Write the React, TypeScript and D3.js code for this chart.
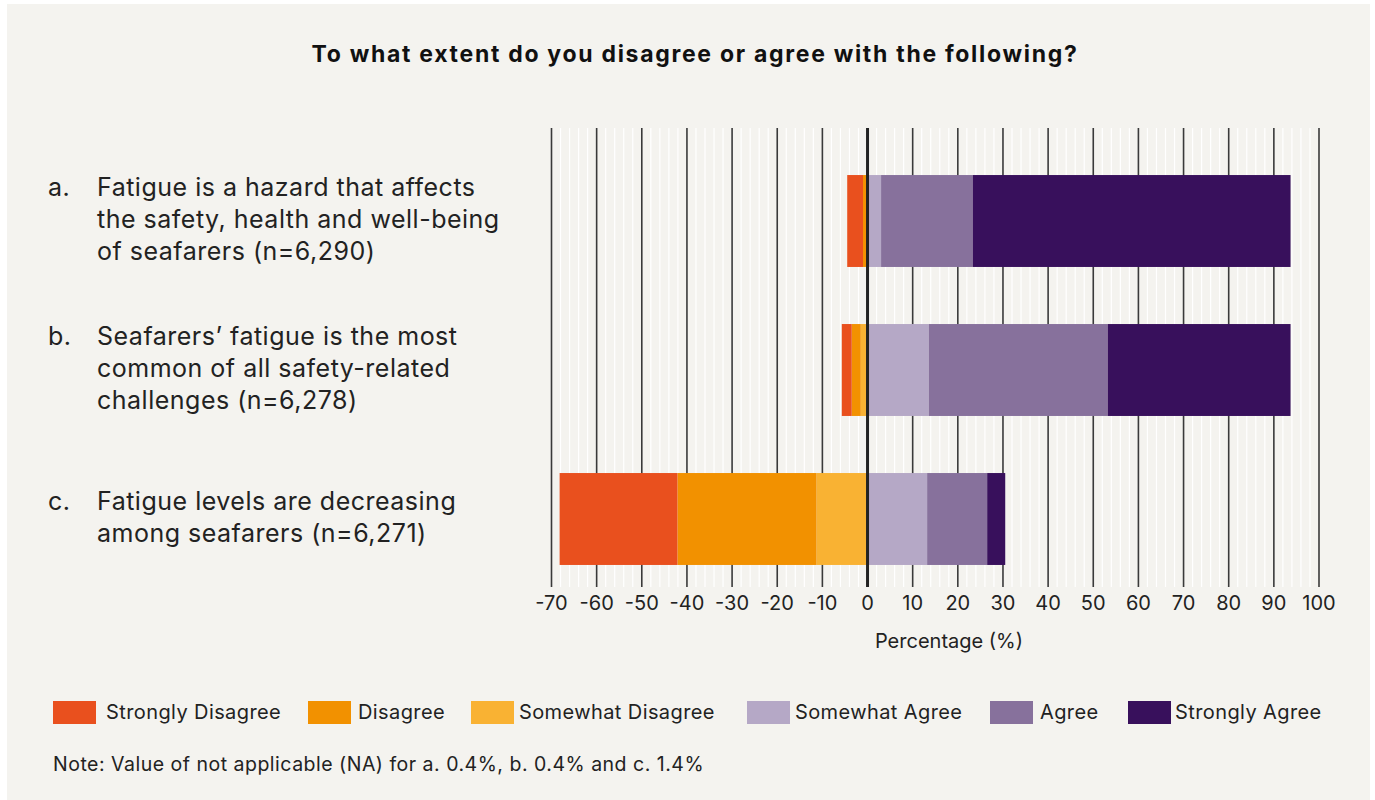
import React from 'react';
import * as d3 from 'd3';

const categories = ['a', 'b', 'c'];
const labelLines: string[][] = [
  ['Fatigue is a hazard that affects', 'the safety, health and well-being', 'of seafarers (n=6,290)'],
  ['Seafarers’ fatigue is the most', 'common of all safety-related', 'challenges (n=6,278)'],
  ['Fatigue levels are decreasing', 'among seafarers (n=6,271)'],
];
const stronglyDisagree = [3.5, 2.2, 26.1];
const disagree = [0.8, 2.0, 30.8];
const somewhatDisagree = [0.2, 1.5, 11.3];
const somewhatAgree = [3.0, 13.6, 13.2];
const agree = [20.3, 39.6, 13.3];
const stronglyAgree = [70.4, 40.5, 4.0];

const seriesNames = ['Strongly Disagree', 'Disagree', 'Somewhat Disagree', 'Somewhat Agree', 'Agree', 'Strongly Agree'];
const seriesColors = ['#e9501e', '#f29100', '#f9b233', '#b5a8c6', '#87719c', '#38105c'];
const tickValues = d3.range(-70, 101, 10);
const minorValues = d3.range(-70, 101, 2).filter((v) => v % 10 !== 0);

const title = 'To what extent do you disagree or agree with the following?';
const axisTitle = 'Percentage (%)';
const note = 'Note: Value of not applicable (NA) for a. 0.4%, b. 0.4% and c. 1.4%';

const W = 1375;
const H = 800;
const FONT = 'Inter, "Open Sans", sans-serif';

export default function App() {
  const x = d3.scaleLinear().domain([-70, 100]).range([551.5, 1319]);
  const y = d3.scaleBand<string>().domain(categories).range([146.5, 593.5]).paddingInner(0.383).paddingOuter(0.1915);
  const gridTop = 128;
  const gridBottom = 587;

  const negSeries = [somewhatDisagree, disagree, stronglyDisagree]; // from zero outward
  const negIdx = [2, 1, 0];
  const posSeries = [somewhatAgree, agree, stronglyAgree];
  const posIdx = [3, 4, 5];

  const bars: React.ReactNode[] = [];
  categories.forEach((c, i) => {
    let acc = 0;
    negSeries.forEach((s, k) => {
      const v = s[i];
      const x0 = x(-acc - v);
      const x1 = x(-acc);
      bars.push(<rect key={`n${c}${k}`} x={x0} y={y(c)} width={x1 - x0} height={y.bandwidth()} fill={seriesColors[negIdx[k]]} />);
      acc += v;
    });
    acc = 0;
    posSeries.forEach((s, k) => {
      const v = s[i];
      const x0 = x(acc);
      const x1 = x(acc + v);
      bars.push(<rect key={`p${c}${k}`} x={x0} y={y(c)} width={x1 - x0} height={y.bandwidth()} fill={seriesColors[posIdx[k]]} />);
      acc += v;
    });
  });

  const legendX = [53, 308, 471, 747, 990, 1128];
  const legendTextX = [106, 358, 519, 795, 1040, 1175];

  return (
    <svg width={W} height={H} style={{ position: 'absolute', left: 0, top: 0 }} fontFamily={FONT}>
      <rect x={0} y={0} width={W} height={H} fill="#ffffff" />
      <rect x={7} y={4} width={1363} height={H} fill="#f4f3ef" />
      <text x={695} y={62} textAnchor="middle" fontSize={23} fontWeight={700} letterSpacing={1.7} fill="#111">{title}</text>

      {minorValues.map((v) => (
        <line key={`m${v}`} x1={x(v)} x2={x(v)} y1={gridTop} y2={gridBottom} stroke="#ffffff" strokeWidth={1.2} />
      ))}
      {tickValues.map((v) => (
        <line key={`t${v}`} x1={x(v)} x2={x(v)} y1={gridTop} y2={gridBottom} stroke="#3a3a3a" strokeWidth={v === 0 ? 0 : 1.6} />
      ))}
      {bars}
      <line x1={x(0)} x2={x(0)} y1={gridTop} y2={gridBottom} stroke="#222" strokeWidth={3} />

      {tickValues.map((v) => (
        <text key={`l${v}`} x={x(v)} y={610} textAnchor="middle" fontSize={20} fill="#222">{v}</text>
      ))}
      <text x={949} y={648} textAnchor="middle" fontSize={20} fill="#222">{axisTitle}</text>

      {labelLines.map((lines, i) => {
        const cy = (y(categories[i]) as number) + y.bandwidth() / 2;
        const base = cy + 7 - ((lines.length - 1) / 2) * 32;
        return (
          <g key={`lab${i}`} fontSize={25} letterSpacing={0.5} fill="#222">
            <text x={48} y={base}>{categories[i]}.</text>
            {lines.map((ln, j) => (
              <text key={j} x={97} y={base + j * 32}>{ln}</text>
            ))}
          </g>
        );
      })}

      {seriesNames.map((n, i) => (
        <g key={`lg${i}`}>
          <rect x={legendX[i]} y={701} width={43} height={23} fill={seriesColors[i]} />
          <text x={legendTextX[i]} y={719} fontSize={20} letterSpacing={0.4} fill="#222">{n}</text>
        </g>
      ))}
      <text x={53} y={771} fontSize={19.5} letterSpacing={0.5} fill="#222">{note}</text>
    </svg>
  );
}
